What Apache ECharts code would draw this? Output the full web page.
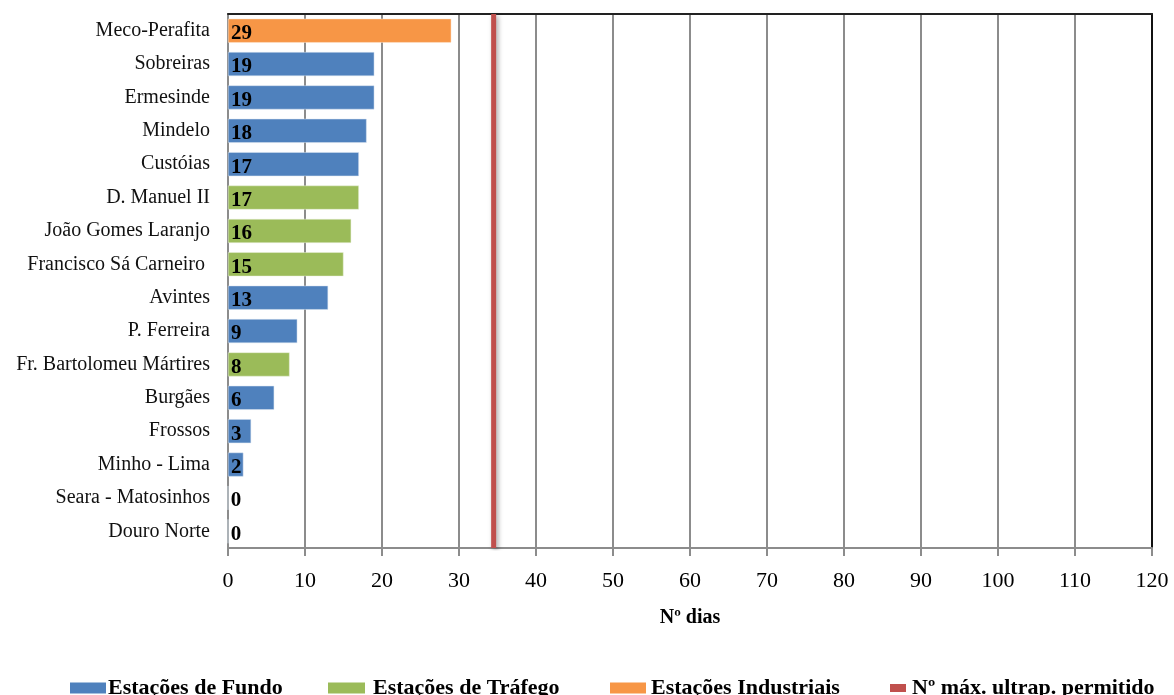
<!DOCTYPE html>
<html>
<head>
<meta charset="utf-8">
<script src="https://cdn.jsdelivr.net/npm/echarts@6/dist/echarts.min.js"></script>
<style>html,body{margin:0;padding:0;background:#fff;}#c{width:1174px;height:695px;}</style>
</head>
<body>
<div id="c"></div>
<script>
const categories = ["Meco-Perafita","Sobreiras","Ermesinde","Mindelo","Custóias","D. Manuel II","João Gomes Laranjo","Francisco Sá Carneiro ","Avintes","P. Ferreira","Fr. Bartolomeu Mártires","Burgães","Frossos","Minho - Lima","Seara - Matosinhos","Douro Norte"];
const fundo =       [null,19,19,18,17,null,null,null,13,9,null,6,3,2,0,0];
const trafego =     [null,null,null,null,null,17,16,15,null,null,8,null,null,null,null,null];
const industriais = [29,null,null,null,null,null,null,null,null,null,null,null,null,null,null,null];
const limite = 34.5;
const limiteLine = [[limite,0],[limite,1]];
const seriesNames = ["Estações de Fundo","Estações de Tráfego","Estações Industriais","Nº máx. ultrap. permitido"];
const xMin = 0, xMax = 120, xStep = 10;

const FONT = "'Liberation Serif', serif";
const chart = echarts.init(document.getElementById('c'));
const barLabel = {
  show: true, position: 'insideLeft', distance: 3, offset: [0, 3],
  color: '#000', fontFamily: FONT, fontWeight: 'bold', fontSize: 21
};
function legendAt(left, name, w, h, pad) {
  return {
    data: [{name: name, icon: 'rect'}], left: left, top: 677, padding: 0,
    itemWidth: w, itemHeight: h, itemGap: 0,
    itemStyle: {borderWidth: 0},
    textStyle: {fontFamily: FONT, fontWeight: 'bold', fontSize: 22, color: '#000', padding: [0,0,0,pad], lineHeight: 22},
    selectedMode: false
  };
}
chart.setOption({
  animation: false,
  grid: {left: 228, right: 22, top: 14, bottom: 147},
  legend: [
    legendAt(70, seriesNames[0], 36, 11, -3),
    legendAt(328, seriesNames[1], 37, 11, 3),
    legendAt(610, seriesNames[2], 36, 11, 0),
    legendAt(890, seriesNames[3], 16, 8, 1)
  ],
  xAxis: [{
    type: 'value', min: xMin, max: xMax, interval: xStep, position: 'bottom',
    name: 'Nº dias', nameLocation: 'middle', nameGap: 60,
    nameTextStyle: {fontFamily: FONT, fontWeight: 'bold', fontSize: 20, color: '#000'},
    axisLine: {show: true, lineStyle: {color: '#8c8c8c', width: 2}},
    axisTick: {show: true, length: 8, lineStyle: {color: '#8c8c8c', width: 2}},
    axisLabel: {fontFamily: FONT, fontSize: 22, color: '#000', margin: 22},
    splitLine: {show: true, lineStyle: {color: '#8c8c8c', width: 2}}
  }, {
    type: 'value', min: xMin, max: xMax, position: 'top',
    axisLine: {show: true, onZero: false, lineStyle: {color: '#222', width: 2}},
    axisTick: {show: false}, axisLabel: {show: false}, splitLine: {show: false}
  }],
  yAxis: [{
    type: 'category', data: categories, inverse: true,
    axisLine: {show: true, lineStyle: {color: '#8c8c8c', width: 2}},
    axisTick: {show: false},
    axisLabel: {fontFamily: FONT, fontSize: 20, color: '#111', margin: 18, padding: [3,0,0,0]}
  }, {
    type: 'value', min: 0, max: 1, position: 'right',
    axisLine: {show: true, onZero: false, lineStyle: {color: '#111', width: 2}},
    axisTick: {show: false}, axisLabel: {show: false}, splitLine: {show: false}
  }],
  series: [
    {name: seriesNames[0], type: 'bar', stack: 's', data: fundo, barWidth: '72%',
     itemStyle: {color: '#4F81BD', borderColor: '#dbe5f1', borderWidth: 0.5}, label: barLabel},
    {name: seriesNames[1], type: 'bar', stack: 's', data: trafego, barWidth: '72%',
     itemStyle: {color: '#9BBB59', borderColor: '#ebf1de', borderWidth: 0.5}, label: barLabel},
    {name: seriesNames[2], type: 'bar', stack: 's', data: industriais, barWidth: '72%',
     itemStyle: {color: '#F79646', borderColor: '#fde9d9', borderWidth: 0.5}, label: barLabel},
    {name: seriesNames[3], type: 'line', xAxisIndex: 1, yAxisIndex: 1, data: limiteLine,
     symbol: 'none', color: '#C0504D',
     lineStyle: {color: '#C0504D', width: 5, shadowColor: 'rgba(0,0,0,0.35)', shadowBlur: 5, shadowOffsetX: 2, shadowOffsetY: 2},
     itemStyle: {color: '#C0504D'}, z: 5}
  ]
});
</script>
</body>
</html>
